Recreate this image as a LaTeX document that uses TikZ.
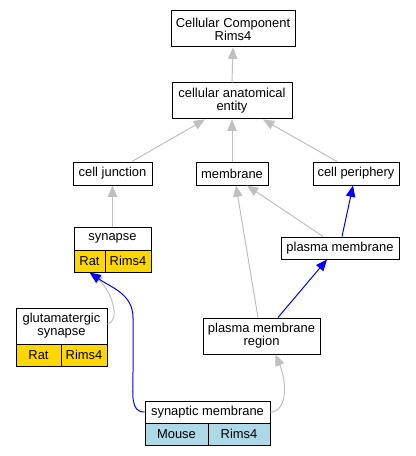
\documentclass[tikz,border=0pt]{standalone}
\usepackage{fontspec}
\setmainfont{Liberation Sans}
\usetikzlibrary{arrows.meta,calc}
\definecolor{edgegray}{RGB}{192,192,192}
\definecolor{gold}{RGB}{255,215,0}
\definecolor{lblue}{RGB}{173,216,230}
\newcommand\gvfont{\fontsize{9.7}{9.9}\selectfont}
\tikzset{
  box/.style={draw=black, line width=0.75pt, inner sep=0pt, align=center, font=\gvfont, fill=white},
  gedge/.style={draw=edgegray, line width=0.75pt, -{Triangle[length=8.5pt,width=7pt]}},
  bedge/.style={draw=blue, line width=0.75pt, -{Triangle[length=8.5pt,width=7pt]}},
}
\begin{document}
\begin{tikzpicture}[x=0.75pt,y=-0.75pt]
\useasboundingbox[fill=white] (0,0) rectangle (415,456);
% simple boxes
\node[box, minimum width=93pt, minimum height=27pt] (cc) at (233,29) {Cellular Component\\Rims4};
\node[box, minimum width=90pt, minimum height=27pt] (cae) at (232,101) {cellular anatomical\\entity};
\node[box, minimum width=59.25pt, minimum height=17.25pt] (cj) at (112.5,173.5) {cell junction};
\node[box, minimum width=54pt, minimum height=17.25pt] (mem) at (232,173.5) {membrane};
\node[box, minimum width=64.5pt, minimum height=17.25pt] (cp) at (356,173.5) {cell periphery};
\node[box, minimum width=88.5pt, minimum height=16.5pt] (pm) at (340,248) {plasma membrane};
\node[box, minimum width=87.75pt, minimum height=27pt] (pmr) at (261.5,336) {plasma membrane\\region};
% synapse record
\node[box, minimum width=57.75pt, minimum height=17.25pt] (syn) at (112.5,238.5) {synapse};
\node[box, fill=gold, minimum width=23.25pt, minimum height=16.5pt] (synrat) at (89.5,261) {Rat};
\node[box, fill=gold, minimum width=34.5pt, minimum height=16.5pt] (synrims) at (128,261) {Rims4};
% glutamatergic synapse record
\node[box, minimum width=68.25pt, minimum height=27pt] (glu) at (61.5,326) {glutamatergic\\synapse};
\node[box, fill=gold, minimum width=33.75pt, minimum height=16.5pt] (glurat) at (38.5,355) {Rat};
\node[box, fill=gold, minimum width=34.5pt, minimum height=16.5pt] (glurims) at (84,355) {Rims4};
% synaptic membrane record
\node[box, minimum width=93.75pt, minimum height=16.5pt] (sm) at (207.5,412) {synaptic membrane};
\node[box, fill=lblue, minimum width=47.25pt, minimum height=16.5pt] (smmouse) at (176.5,434) {Mouse};
\node[box, fill=lblue, minimum width=46.5pt, minimum height=16.5pt] (smrims) at (239,434) {Rims4};
% edges
\draw[gedge] (cae.north) -- (cc.south);
\draw[gedge] ($(cj.north)+(19.5,0)$) -- ($(cae.south)+(-27,0)$);
\draw[gedge] (mem.north) -- (cae.south);
\draw[gedge] ($(cp.north)+(-19,0)$) -- ($(cae.south)+(31,0)$);
\draw[gedge] (syn.north) -- (cj.south);
\draw[gedge] ($(pm.north)+(-17,0)$) -- ($(mem.south)+(15,0)$);
\draw[bedge] ($(pm.north)+(2,0)$) -- ($(cp.south)+(-3,0)$);
\draw[gedge] ($(pmr.north)+(-3.5,0)$) -- ($(mem.south)+(4,0)$);
\draw[bedge] ($(pmr.north)+(16.5,0)$) -- ($(pm.south)+(-13,0)$);
\draw[gedge] ($(glu.east)+(0,-2)$) .. controls (119,322) and (115,296) .. ($(synrat.south)+(2,0)$);
\draw[bedge] (sm.west) .. controls (130,412) and (133,395) .. (133,372) -- (133,318) .. controls (133,294) and (112,288) .. (synrat.south);
\draw[gedge] (sm.east) .. controls (286,412) and (288,385) .. ($(pmr.south)+(14,0)$);
\end{tikzpicture}
\end{document}
